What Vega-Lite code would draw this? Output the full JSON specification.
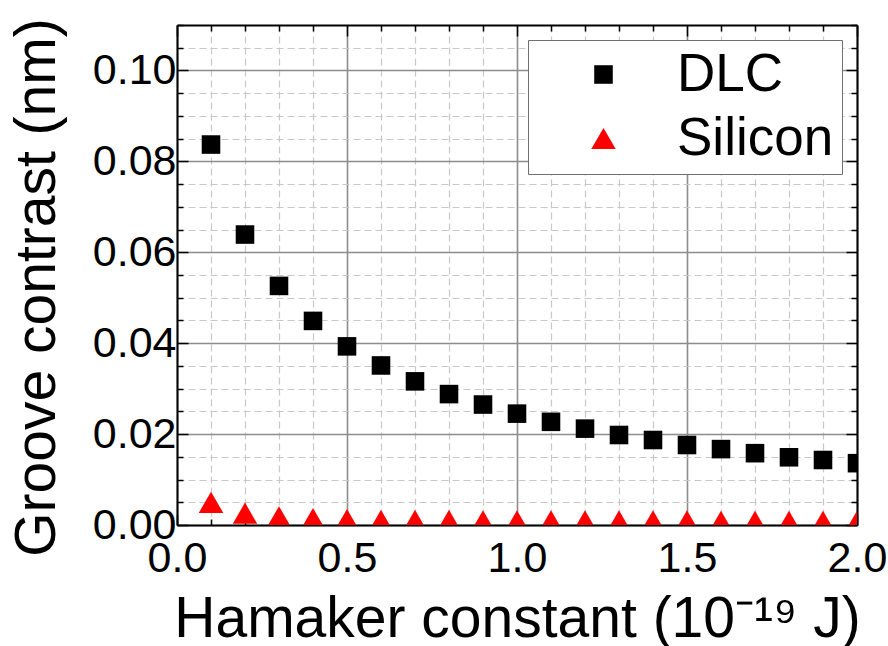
{
  "$schema": "https://vega.github.io/schema/vega-lite/v6.json",
  "width": 680,
  "height": 500,
  "autosize": "none",
  "padding": {"left": 177, "top": 25, "right": 31, "bottom": 121},
  "background": "white",
  "data": {
    "values": [
      {"h": 0.1, "c": 0.0837, "material": "DLC"},
      {"h": 0.2, "c": 0.0639, "material": "DLC"},
      {"h": 0.3, "c": 0.0526, "material": "DLC"},
      {"h": 0.4, "c": 0.0449, "material": "DLC"},
      {"h": 0.5, "c": 0.0393, "material": "DLC"},
      {"h": 0.6, "c": 0.0351, "material": "DLC"},
      {"h": 0.7, "c": 0.0316, "material": "DLC"},
      {"h": 0.8, "c": 0.0288, "material": "DLC"},
      {"h": 0.9, "c": 0.0265, "material": "DLC"},
      {"h": 1.0, "c": 0.0245, "material": "DLC"},
      {"h": 1.1, "c": 0.0227, "material": "DLC"},
      {"h": 1.2, "c": 0.0212, "material": "DLC"},
      {"h": 1.3, "c": 0.0198, "material": "DLC"},
      {"h": 1.4, "c": 0.0187, "material": "DLC"},
      {"h": 1.5, "c": 0.0176, "material": "DLC"},
      {"h": 1.6, "c": 0.0167, "material": "DLC"},
      {"h": 1.7, "c": 0.0158, "material": "DLC"},
      {"h": 1.8, "c": 0.0149, "material": "DLC"},
      {"h": 1.9, "c": 0.0143, "material": "DLC"},
      {"h": 2.0, "c": 0.0136, "material": "DLC"},
      {"h": 0.1, "c": 0.0050, "material": "Silicon"},
      {"h": 0.2, "c": 0.0026, "material": "Silicon"},
      {"h": 0.3, "c": 0.0018, "material": "Silicon"},
      {"h": 0.4, "c": 0.0014, "material": "Silicon"},
      {"h": 0.5, "c": 0.0012, "material": "Silicon"},
      {"h": 0.6, "c": 0.0010, "material": "Silicon"},
      {"h": 0.7, "c": 0.0010, "material": "Silicon"},
      {"h": 0.8, "c": 0.0010, "material": "Silicon"},
      {"h": 0.9, "c": 0.0009, "material": "Silicon"},
      {"h": 1.0, "c": 0.0009, "material": "Silicon"},
      {"h": 1.1, "c": 0.0009, "material": "Silicon"},
      {"h": 1.2, "c": 0.0009, "material": "Silicon"},
      {"h": 1.3, "c": 0.0009, "material": "Silicon"},
      {"h": 1.4, "c": 0.0009, "material": "Silicon"},
      {"h": 1.5, "c": 0.0009, "material": "Silicon"},
      {"h": 1.6, "c": 0.0008, "material": "Silicon"},
      {"h": 1.7, "c": 0.0008, "material": "Silicon"},
      {"h": 1.8, "c": 0.0008, "material": "Silicon"},
      {"h": 1.9, "c": 0.0008, "material": "Silicon"},
      {"h": 2.0, "c": 0.0008, "material": "Silicon"}
    ]
  },
  "layer": [
    {
      "mark": {"type": "point", "filled": true, "opacity": 1, "clip": true, "strokeWidth": 0},
      "encoding": {
        "x": {
          "field": "h", "type": "quantitative",
          "scale": {"domain": [0, 2], "nice": false, "zero": false},
          "axis": {
            "orient": "bottom",
            "values": [0, 0.1, 0.2, 0.3, 0.4, 0.5, 0.6, 0.7, 0.8, 0.9, 1.0, 1.1, 1.2, 1.3, 1.4, 1.5, 1.6, 1.7, 1.8, 1.9, 2.0],
            "labelExpr": "abs(datum.value*2 - round(datum.value*2)) < 1e-6 ? format(datum.value, '.1f') : ''",
            "labelFontSize": 43,
            "labelPadding": 23,
            "labelFlush": false,
            "labelOverlap": false,
            "tickSize": {"condition": {"test": "abs(datum.value*2 - round(datum.value*2)) < 1e-6", "value": -11}, "value": -6},
            "grid": true,
            "gridColor": {"condition": {"test": "abs(datum.value*2 - round(datum.value*2)) < 1e-6", "value": "#8c8c8c"}, "value": "#c8c8c8"},
            "gridDash": {"condition": {"test": "abs(datum.value*2 - round(datum.value*2)) < 1e-6", "value": []}, "value": [7, 4]},
            "gridWidth": {"condition": {"test": "abs(datum.value*2 - round(datum.value*2)) < 1e-6", "value": 1.6}, "value": 1.2},
            "title": "Hamaker constant (10⁻¹⁹ J)",
            "titleBaseline": "alphabetic",
            "titleY": 111
          }
        },
        "y": {
          "field": "c", "type": "quantitative",
          "scale": {"domain": [0, 0.11], "nice": false, "zero": false},
          "axis": {
            "orient": "left",
            "values": [0, 0.005, 0.01, 0.015, 0.02, 0.025, 0.03, 0.035, 0.04, 0.045, 0.05, 0.055, 0.06, 0.065, 0.07, 0.075, 0.08, 0.085, 0.09, 0.095, 0.1, 0.105, 0.11],
            "labelExpr": "abs(datum.value*50 - round(datum.value*50)) < 1e-6 ? format(datum.value, '.2f') : ''",
            "labelFontSize": 43,
            "labelPadding": 12,
            "labelFlush": false,
            "labelOverlap": false,
            "tickSize": {"condition": {"test": "abs(datum.value*50 - round(datum.value*50)) < 1e-6", "value": -11}, "value": -6},
            "grid": true,
            "gridColor": {"condition": {"test": "abs(datum.value*50 - round(datum.value*50)) < 1e-6", "value": "#8c8c8c"}, "value": "#c8c8c8"},
            "gridDash": {"condition": {"test": "abs(datum.value*50 - round(datum.value*50)) < 1e-6", "value": []}, "value": [7, 4]},
            "gridWidth": {"condition": {"test": "abs(datum.value*50 - round(datum.value*50)) < 1e-6", "value": 1.6}, "value": 1.2},
            "title": "Groove contrast (nm)",
            "titleBaseline": "alphabetic",
            "titleX": -123,
            "titleY": 262
          }
        },
        "color": {
          "field": "material", "type": "nominal",
          "scale": {"domain": ["DLC", "Silicon"], "range": ["#000000", "#ff0000"]},
          "legend": {"title": null}
        },
        "shape": {
          "field": "material", "type": "nominal",
          "scale": {"domain": ["DLC", "Silicon"], "range": ["square", "triangle-up"]},
          "legend": {"title": null}
        },
        "size": {
          "field": "material", "type": "nominal",
          "scale": {"domain": ["DLC", "Silicon"], "range": [345, 600]},
          "legend": {"title": null}
        }
      }
    },
    {
      "mark": {"type": "point", "opacity": 0},
      "encoding": {
        "x": {
          "field": "h", "type": "quantitative",
          "axis": {
            "orient": "top",
            "values": [0, 0.1, 0.2, 0.3, 0.4, 0.5, 0.6, 0.7, 0.8, 0.9, 1.0, 1.1, 1.2, 1.3, 1.4, 1.5, 1.6, 1.7, 1.8, 1.9, 2.0],
            "labels": false,
            "grid": false,
            "title": null,
            "tickSize": {"condition": {"test": "abs(datum.value*2 - round(datum.value*2)) < 1e-6", "value": -11}, "value": -6}
          }
        },
        "y": {
          "field": "c", "type": "quantitative",
          "axis": {
            "orient": "right",
            "values": [0, 0.005, 0.01, 0.015, 0.02, 0.025, 0.03, 0.035, 0.04, 0.045, 0.05, 0.055, 0.06, 0.065, 0.07, 0.075, 0.08, 0.085, 0.09, 0.095, 0.1, 0.105, 0.11],
            "labels": false,
            "grid": false,
            "title": null,
            "tickSize": {"condition": {"test": "abs(datum.value*50 - round(datum.value*50)) < 1e-6", "value": -11}, "value": -6}
          }
        }
      }
    }
  ],
  "resolve": {"axis": {"x": "independent", "y": "independent"}},
  "config": {
    "view": {"stroke": null},
    "font": "Liberation Sans",
    "axis": {
      "domain": true,
      "domainColor": "#000000",
      "domainWidth": 2,
      "tickColor": "#000000",
      "tickWidth": 1.5,
      "labelColor": "#000000",
      "labelFont": "Liberation Sans",
      "titleFont": "Liberation Sans",
      "titleFontSize": 57,
      "titleFontWeight": "normal",
      "titleColor": "#000000",
      "zindex": 0
    },
    "legend": {
      "orient": "top-right",
      "offset": 15,
      "labelFont": "Liberation Sans",
      "labelFontSize": 53,
      "labelColor": "#000000",
      "labelLimit": 400,
      "strokeColor": "#707070",
      "fillColor": "#ffffff",
      "padding": 8,
      "rowPadding": 10,
      "symbolOffset": 41,
      "labelOffset": 47,
      "symbolStrokeWidth": 0,
      "cornerRadius": 0
    }
  }
}
